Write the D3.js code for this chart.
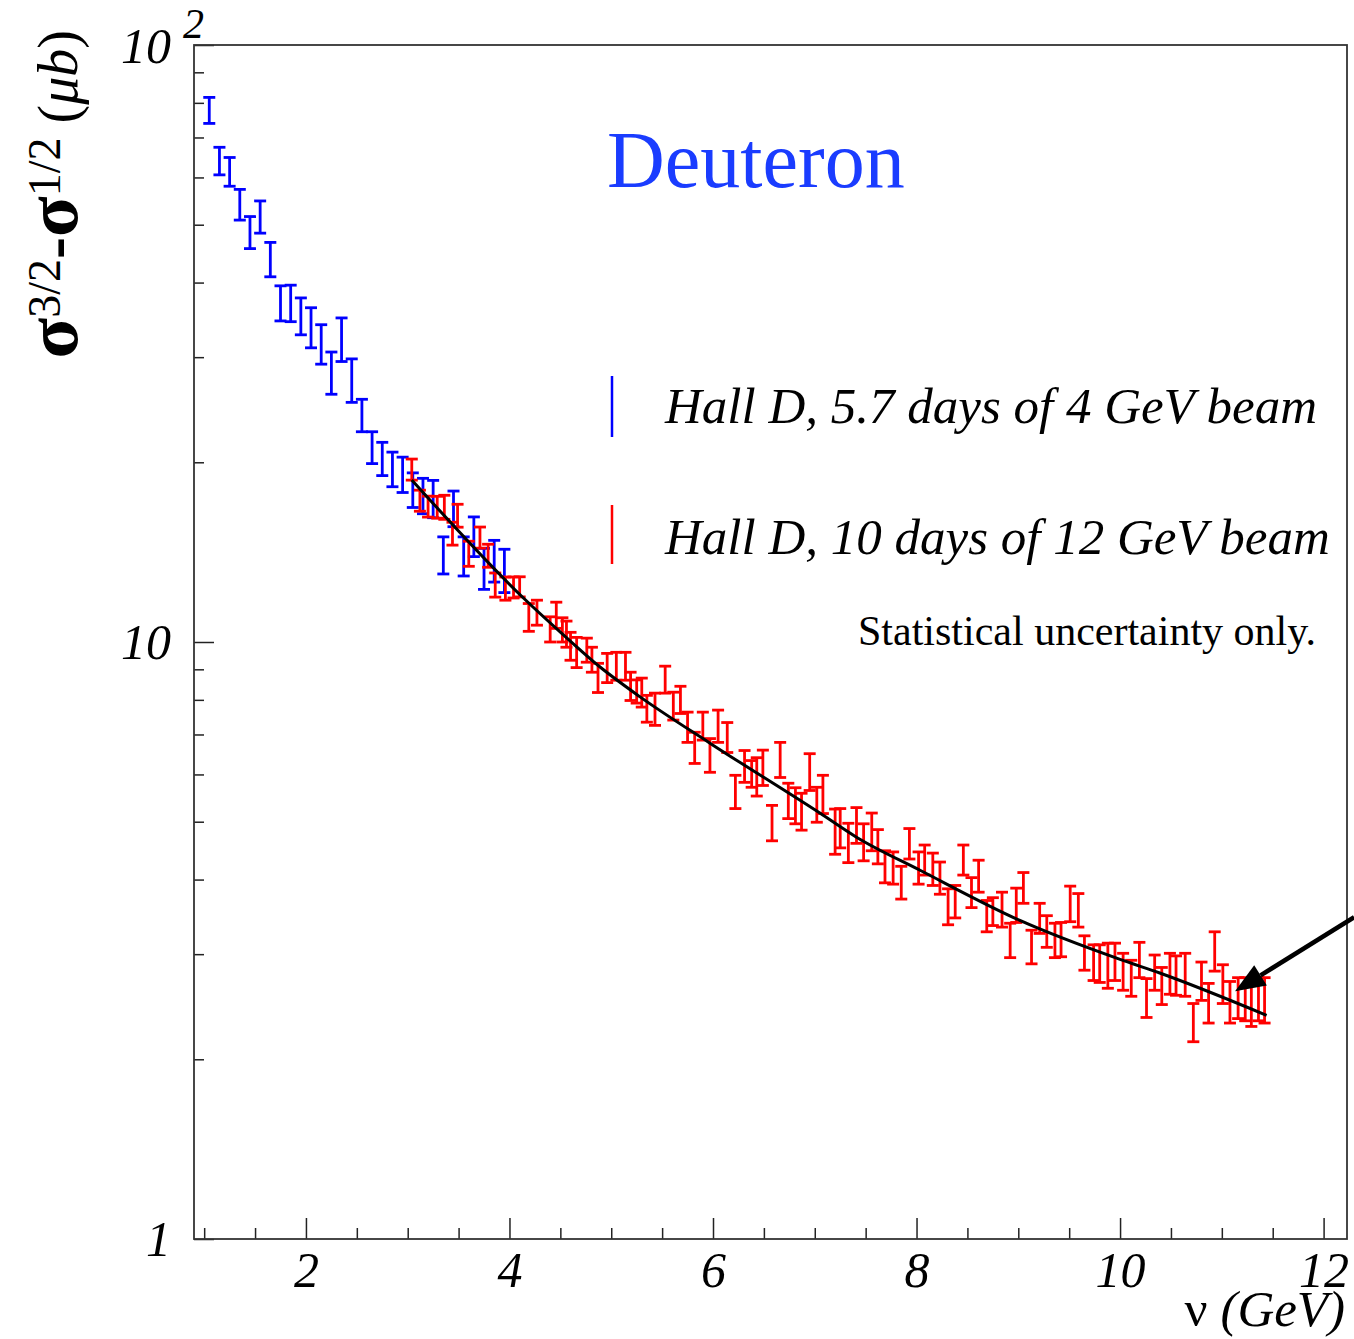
<!DOCTYPE html>
<meta charset="utf-8">
<head>
  <title>Deuteron sigma difference</title>
</head>
<style>
  html, body {
    margin: 0;
    padding: 0;
    background: #fff;
    overflow: hidden;
  }
  svg text {
    font-family: "Liberation Serif", "DejaVu Serif", serif;
  }
</style>
<body>
<script src="https://cdnjs.cloudflare.com/ajax/libs/d3/7.8.5/d3.min.js"></script>
<script>
// blue: 4 GeV beam, 5.7 days
var blueX = [1.05, 1.15, 1.25, 1.35, 1.45, 1.55, 1.65, 1.75, 1.85, 1.95,
             2.05, 2.15, 2.25, 2.35, 2.45, 2.55, 2.65, 2.75, 2.85, 2.95,
             3.05, 3.15, 3.25, 3.35, 3.45, 3.55, 3.65, 3.75, 3.85, 3.95];
var blueY = [77.8, 64.0, 61.4, 54.1, 48.6, 51.6, 43.8, 37.0, 37.0, 35.2,
             33.7, 31.6, 28.3, 32.2, 27.5, 24.0, 21.2, 20.3, 19.5, 19.1,
             18.0, 17.6, 17.4, 14.0, 16.75, 13.95, 15.05, 13.3, 13.7, 13.2];
var blueErr = [3.9, 3.4, 3.4, 3.2, 3.0, 3.2, 2.9, 2.5, 2.6, 2.5,
               2.6, 2.4, 2.3, 2.7, 2.3, 1.5, 1.3, 1.3, 1.3, 1.3,
               1.2, 1.2, 1.25, 1.0, 1.15, 1.05, 1.15, 1.05, 1.1, 1.1];

// red: 12 GeV beam, 10 days
var redX = [3.04, 3.12, 3.20, 3.29, 3.36, 3.44, 3.49, 3.60, 3.71, 3.79,
            3.86, 3.96, 4.04, 4.10, 4.19, 4.27, 4.40, 4.46, 4.52, 4.56,
            4.60, 4.66, 4.76, 4.81, 4.87, 4.96, 5.05, 5.14, 5.19, 5.25,
            5.30, 5.35, 5.43, 5.53, 5.61, 5.68, 5.75, 5.82, 5.90, 5.97,
            6.05, 6.14, 6.22, 6.31, 6.38, 6.43, 6.49, 6.58, 6.66, 6.74,
            6.81, 6.87, 6.95, 7.02, 7.08, 7.20, 7.25, 7.33, 7.41, 7.48,
            7.56, 7.62, 7.69, 7.77, 7.85, 7.93, 8.02, 8.08, 8.16, 8.23,
            8.31, 8.38, 8.46, 8.54, 8.61, 8.69, 8.75, 8.84, 8.92, 8.98,
            9.05, 9.13, 9.21, 9.28, 9.36, 9.42, 9.51, 9.59, 9.65, 9.74,
            9.80, 9.88, 9.95, 10.03, 10.11, 10.19, 10.26, 10.34, 10.41, 10.49,
            10.55, 10.64, 10.72, 10.80, 10.87, 10.93, 11.01, 11.08, 11.16, 11.23,
            11.29, 11.36, 11.42];
var redY = [19.46, 17.26, 16.87, 16.83, 16.83, 15.20, 16.29, 14.07, 14.97, 13.96,
            12.47, 12.30, 12.35, 12.38, 11.01, 11.21, 10.51, 11.10, 10.49, 10.32,
            9.85, 9.62, 9.70, 9.35, 8.72, 9.06, 9.12, 9.12, 8.44, 8.27,
            8.24, 7.74, 7.73, 8.66, 7.82, 8.01, 7.21, 6.66, 7.24, 6.47,
            7.24, 6.93, 5.62, 6.20, 6.02, 5.96, 6.17, 4.985, 6.36, 5.43,
            5.33, 5.21, 6.07, 5.35, 5.57, 4.83, 4.89, 4.62, 4.94, 4.63,
            4.82, 4.55, 4.21, 4.19, 3.96, 4.60, 4.19, 4.32, 4.17, 4.03,
            3.61, 3.68, 4.32, 3.81, 4.06, 3.48, 3.54, 3.57, 3.17, 3.63,
            3.88, 3.09, 3.45, 3.28, 3.17, 3.18, 3.65, 3.56, 3.02, 2.91,
            2.90, 2.88, 2.92, 2.81, 2.74, 2.94, 2.54, 2.80, 2.66, 2.79,
            2.77, 2.78, 2.31, 2.71, 2.49, 3.04, 2.68, 2.50, 2.54, 2.53,
            2.50, 2.53, 2.52];
var redErr = [0.79, 0.70, 0.68, 0.71, 0.78, 0.67, 0.72, 0.68, 0.61, 0.62,
              0.58, 0.55, 0.50, 0.48, 0.59, 0.54, 0.51, 0.56, 0.49, 0.52,
              0.53, 0.56, 0.45, 0.45, 0.49, 0.51, 0.49, 0.49, 0.46, 0.37,
              0.46, 0.40, 0.48, 0.45, 0.42, 0.42, 0.42, 0.40, 0.39, 0.42,
              0.45, 0.40, 0.36, 0.38, 0.31, 0.44, 0.42, 0.34, 0.43, 0.37,
              0.37, 0.37, 0.43, 0.36, 0.41, 0.42, 0.37, 0.35, 0.34, 0.33,
              0.35, 0.30, 0.26, 0.26, 0.25, 0.27, 0.26, 0.25, 0.26, 0.25,
              0.25, 0.23, 0.25, 0.22, 0.25, 0.21, 0.19, 0.24, 0.21, 0.24,
              0.23, 0.20, 0.20, 0.20, 0.21, 0.21, 0.25, 0.23, 0.20, 0.20,
              0.21, 0.25, 0.21, 0.20, 0.19, 0.20, 0.19, 0.19, 0.19, 0.22,
              0.21, 0.23, 0.17, 0.20, 0.19, 0.23, 0.20, 0.20, 0.20, 0.21,
              0.23, 0.21, 0.22];

// fitted curve
var curveX = [3.04, 4.14, 4.50, 4.89, 5.28, 5.97, 7.05, 7.41, 8.03, 9.01, 10.0, 10.39, 11.44];
var curveY = [18.68, 11.84, 10.39, 9.08, 8.10, 6.77, 5.17, 4.71, 4.15, 3.42, 2.94, 2.79, 2.37];

var xMajor = [2, 4, 6, 8, 10, 12];
var xMinor = [1, 1.5, 2.5, 3, 3.5, 4.5, 5, 5.5, 6.5, 7, 7.5, 8.5, 9, 9.5, 10.5, 11, 11.5];
var yMajor = [1, 10, 100];
var yMinor = [2, 3, 4, 5, 6, 7, 8, 9, 20, 30, 40, 50, 60, 70, 80, 90];

// arrow annotation, tail then tip
var arrowX = [12.3, 11.13];
var arrowY = [3.46, 2.60];

var W = 1354, H = 1339;
var padL = 194, padR = 1347, padT = 45, padB = 1239;

var svg = d3.select("body").append("svg")
  .attr("width", W)
  .attr("height", H);

svg.append("rect").attr("width", W).attr("height", H).attr("fill", "#fff");

var x = d3.scaleLinear().domain([0.9, 12.23]).range([padL, padR]);
var y = d3.scaleLog().domain([1, 100]).range([padB, padT]);

// axes (ticks point inward)
function styleAxis(g) {
  g.select(".domain").remove();
  g.selectAll(".tick line").attr("stroke", "#222").attr("stroke-width", 1.5);
  g.selectAll("text")
    .attr("fill", "#000")
    .attr("font-family", "'Liberation Serif', serif")
    .attr("font-style", "italic")
    .attr("font-size", 50);
}

svg.append("g")
  .attr("transform", "translate(0," + padB + ")")
  .call(d3.axisBottom(x).tickValues(xMinor).tickSize(-11).tickSizeOuter(0).tickFormat(""))
  .call(styleAxis);

svg.append("g")
  .attr("transform", "translate(0," + padB + ")")
  .call(d3.axisBottom(x).tickValues(xMajor).tickSize(-21).tickSizeOuter(0).tickPadding(12)
        .tickFormat(d3.format("d")))
  .call(styleAxis);

svg.append("g")
  .attr("transform", "translate(" + padL + ",0)")
  .call(d3.axisLeft(y).tickValues(yMinor).tickSize(-10).tickSizeOuter(0).tickFormat(""))
  .call(styleAxis);

svg.append("g")
  .attr("transform", "translate(" + padL + ",0)")
  .call(d3.axisLeft(y).tickValues(yMajor).tickSize(-20).tickSizeOuter(0).tickPadding(23)
        .tickFormat(function(d) { return d == 100 ? "" : d3.format("d")(d); }))
  .call(styleAxis);

// 10^2 label at the top
svg.append("text")
  .attr("x", padL - 23).attr("y", y(100) + 18)
  .attr("text-anchor", "end")
  .attr("font-style", "italic").attr("font-size", 50)
  .text("10");
svg.append("text")
  .attr("x", padL - 11).attr("y", y(100) - 7)
  .attr("font-style", "italic").attr("font-size", 42)
  .text("2");

// frame
svg.append("rect")
  .attr("x", padL).attr("y", padT)
  .attr("width", padR - padL).attr("height", padB - padT)
  .attr("fill", "none").attr("stroke", "#333").attr("stroke-width", 1.8);

function drawBars(xs, ys, es, color) {
  var pts = xs.map(function(d, i) { return {x: d, y: ys[i], e: es[i]}; });
  var g = svg.append("g").attr("stroke", color).attr("stroke-width", 2.8).attr("fill", "none");
  var bar = g.selectAll("g").data(pts).enter().append("g");
  bar.append("line")
    .attr("x1", function(d) { return x(d.x); })
    .attr("x2", function(d) { return x(d.x); })
    .attr("y1", function(d) { return y(d.y + d.e); })
    .attr("y2", function(d) { return y(d.y - d.e); });
  bar.append("line")
    .attr("x1", function(d) { return x(d.x) - 6; })
    .attr("x2", function(d) { return x(d.x) + 6; })
    .attr("y1", function(d) { return y(d.y + d.e); })
    .attr("y2", function(d) { return y(d.y + d.e); });
  bar.append("line")
    .attr("x1", function(d) { return x(d.x) - 6; })
    .attr("x2", function(d) { return x(d.x) + 6; })
    .attr("y1", function(d) { return y(d.y - d.e); })
    .attr("y2", function(d) { return y(d.y - d.e); });
}

drawBars(blueX, blueY, blueErr, "#0000ff");
drawBars(redX, redY, redErr, "#ff0000");

// curve
var line = d3.line()
  .x(function(d, i) { return x(curveX[i]); })
  .y(function(d, i) { return y(curveY[i]); })
  .curve(d3.curveMonotoneX);
svg.append("path")
  .attr("d", line(curveX))
  .attr("fill", "none")
  .attr("stroke", "#000")
  .attr("stroke-width", 3);

// arrow
var tail = [x(arrowX[0]), y(arrowY[0])];
var tip = [x(arrowX[1]), y(arrowY[1])];
var ang = Math.atan2(tip[1] - tail[1], tip[0] - tail[0]);
var hl = 30, hw = 12;
var bx = tip[0] - hl * Math.cos(ang), by = tip[1] - hl * Math.sin(ang);
svg.append("line")
  .attr("x1", tail[0]).attr("y1", tail[1])
  .attr("x2", bx).attr("y2", by)
  .attr("stroke", "#000").attr("stroke-width", 4.5);
svg.append("polygon")
  .attr("points", [
    tip,
    [bx + hw * Math.sin(ang), by - hw * Math.cos(ang)],
    [bx - hw * Math.sin(ang), by + hw * Math.cos(ang)]
  ].map(function(p) { return p.join(","); }).join(" "))
  .attr("fill", "#000");

// titles
svg.append("text")
  .attr("x", 607).attr("y", 187)
  .attr("font-size", 80)
  .attr("fill", "#1a3cff")
  .text("Deuteron");

var yt = svg.append("text")
  .attr("transform", "translate(77,30) rotate(-90)")
  .attr("text-anchor", "end")
  .attr("font-size", 56)
  .attr("fill", "#000");
yt.append("tspan").attr("font-weight", "bold").attr("font-size", 75).text("σ");
yt.append("tspan").attr("font-size", 46).attr("dy", -17).text("3/2");
yt.append("tspan").attr("font-weight", "bold").attr("font-size", 66).attr("dy", 17).text("-");
yt.append("tspan").attr("font-weight", "bold").attr("font-size", 75).text("σ");
yt.append("tspan").attr("font-size", 46).attr("dy", -17).text("1/2");
yt.append("tspan").attr("dy", 17).text(" (");
yt.append("tspan").attr("font-style", "italic").text("μb");
yt.append("tspan").text(")");

var xt = svg.append("text")
  .attr("x", 1345).attr("y", 1326)
  .attr("text-anchor", "end")
  .attr("font-size", 51)
  .attr("fill", "#000");
xt.append("tspan").text("ν");
xt.append("tspan").attr("font-style", "italic").text(" (GeV)");

// legend
var legend = [
  {color: "#0000ff", y1: 376, y2: 437, ty: 423, label: "Hall D, 5.7 days of 4 GeV beam"},
  {color: "#ff0000", y1: 505, y2: 564, ty: 554, label: "Hall D, 10 days of 12 GeV beam"}
];
var lg = svg.selectAll("g.legend").data(legend).enter().append("g").attr("class", "legend");
lg.append("line")
  .attr("x1", 612).attr("x2", 612)
  .attr("y1", function(d) { return d.y1; })
  .attr("y2", function(d) { return d.y2; })
  .attr("stroke", function(d) { return d.color; })
  .attr("stroke-width", 2.5);
lg.append("text")
  .attr("x", 665)
  .attr("y", function(d) { return d.ty; })
  .attr("font-size", 51)
  .attr("font-style", "italic")
  .text(function(d) { return d.label; });

svg.append("text")
  .attr("x", 1316).attr("y", 645)
  .attr("text-anchor", "end")
  .attr("font-size", 42)
  .text("Statistical uncertainty only.");
</script>
</body>
